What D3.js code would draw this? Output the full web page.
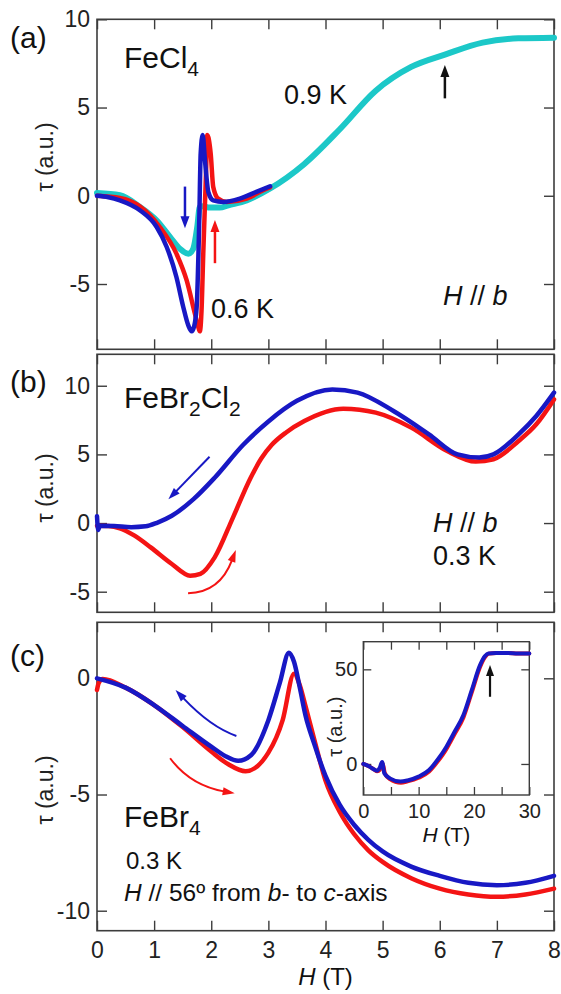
<!DOCTYPE html>
<html><head><meta charset="utf-8">
<script src="https://cdn.jsdelivr.net/npm/d3@7"></script>
<style>
html,body{margin:0;padding:0;background:#fff;}
svg{display:block;font-family:"Liberation Sans",Arial,sans-serif;}
</style></head>
<body>
<svg id="chart" width="561" height="994"></svg>
<script>
// ---------------- DATA ----------------
// Panel (a) FeCl4, H // b
const aBlueH  = [0, 0.2, 0.4, 0.75, 1.045, 1.22, 1.39, 1.51, 1.60, 1.657, 1.70, 1.745, 1.79, 1.815, 1.85, 1.89, 1.95, 2.035, 2.21, 2.5, 2.79, 3.03];
const aBlueT  = [0, -0.08, -0.26, -0.82, -1.77, -2.9, -4.6, -6.3, -7.36, -7.68, -7.4, -6.3, -1.4, 2.4, 3.44, 2.0, 0.2, -0.26, -0.35, -0.16, 0.22, 0.54];
const aRedH   = [0, 0.4, 0.75, 1.10, 1.39, 1.57, 1.715, 1.77, 1.80, 1.83, 1.86, 1.91, 1.93, 1.99, 2.035, 2.12, 2.27, 2.62, 2.97, 3.03];
const aRedT   = [0, -0.12, -0.6, -1.77, -3.28, -4.8, -6.7, -7.4, -7.68, -6.5, -3.3, 1.45, 3.44, 2.4, 0.5, -0.16, -0.35, -0.16, 0.41, 0.48];
const aCyanH  = [0, 0.4, 0.75, 1.045, 1.28, 1.45, 1.60, 1.685, 1.755, 1.80, 1.85, 1.95, 2.15, 2.30, 2.62, 3.03, 3.625, 4.25, 4.875, 5.5, 6.09, 6.75, 7.375, 8];
const aCyanT  = [0.16, 0.03, -0.63, -1.4, -2.34, -3.0, -3.28, -3.0, -1.77, -0.63, -0.6, -0.67, -0.67, -0.54, -0.26, 0.41, 1.79, 3.77, 5.94, 7.3, 8.0, 8.68, 8.92, 8.96];
// Panel (b) FeBr2Cl2, H // b, 0.3 K
const bBlueH  = [0, 0.02, 0.05, 0.3, 0.6, 0.85, 1.05, 1.31, 1.69, 2.06, 2.56, 3.0, 3.5, 4.12, 4.56, 5.19, 5.81, 6.31, 6.69, 6.94, 7.38, 7.69, 8];
const bBlueT  = [0.5, -0.5, -0.2, -0.22, -0.3, -0.24, 0.02, 0.53, 1.74, 3.3, 5.7, 7.4, 8.9, 9.73, 9.5, 8.16, 6.46, 5.0, 4.77, 5.0, 6.46, 7.8, 9.5];
const bRedH   = [0, 0.2, 0.4, 0.65, 0.94, 1.31, 1.63, 1.81, 2.06, 2.38, 2.69, 2.875, 3.06, 3.31, 3.63, 4.31, 4.88, 5.5, 6.13, 6.63, 6.94, 7.38, 7.69, 8];
const bRedT   = [-0.2, -0.22, -0.38, -0.9, -1.77, -2.98, -3.83, -3.7, -2.5, 0.4, 3.3, 4.7, 5.7, 6.6, 7.43, 8.33, 8.04, 6.95, 5.25, 4.48, 4.65, 5.98, 7.19, 9.0];
// Panel (c) FeBr4, 0.3 K
const cBlueH  = [0, 0.5, 1, 1.5, 2, 2.25, 2.47, 2.7, 3.0, 3.2, 3.36, 3.45, 3.55, 3.65, 3.8, 4.0, 4.25, 4.5, 4.75, 5, 5.5, 6, 6.5, 7, 7.5, 8];
const cBlueT  = [0, -0.4, -1.15, -2.05, -2.94, -3.35, -3.55, -3.3, -1.8, -0.2, 1.1, 0.7, -0.4, -1.6, -2.8, -4.2, -5.45, -6.3, -6.95, -7.45, -8.1, -8.5, -8.8, -8.9, -8.8, -8.5];
const cRedH   = [0, 0.03, 0.1, 0.5, 1, 1.5, 2, 2.3, 2.6, 3.0, 3.25, 3.45, 3.55, 3.65, 3.8, 4.0, 4.25, 4.5, 4.75, 5, 5.5, 6, 6.5, 7, 7.5, 8];
const cRedT   = [-0.5, -0.2, -0.03, -0.4, -1.15, -2.1, -3.15, -3.7, -4.0, -3.2, -1.8, 0.2, -0.3, -1.2, -2.6, -4.4, -5.75, -6.7, -7.4, -7.9, -8.6, -9.05, -9.3, -9.4, -9.3, -9.05];
// Inset of (c): 0-30 T
const iBlueH  = [0, 1, 2, 2.5, 3, 3.4, 3.8, 4.8, 6.7, 8, 10, 11.9, 13.5, 15, 15.7, 16.5, 18.1, 19.6, 21.1, 22, 22.6, 24, 26, 28, 30];
const iBlueT  = [0, -1.2, -3, -3.6, -1.8, 1.1, -4.9, -7.6, -9.3, -8.7, -6.7, -3.2, 2.5, 9, 12.7, 17, 25.9, 39, 52.2, 57, 58.4, 58.6, 58.6, 58.4, 58.4];
const iRedH   = [0, 1, 2, 2.5, 3, 3.5, 3.9, 4.8, 6.8, 8, 10, 11.9, 13.5, 15, 15.7, 16.5, 18.1, 19.6, 21.1, 22, 22.7, 24, 26, 28, 30];
const iRedT   = [0, -1.2, -3, -3.9, -3.0, 0.2, -5.0, -8.0, -9.9, -9.2, -7.3, -4.0, 1.5, 7.8, 11.5, 15.8, 24.6, 37.8, 51.3, 56.5, 58.3, 58.6, 58.6, 58.4, 58.4];

// axis ticks
const xTicks = [0, 1, 2, 3, 4, 5, 6, 7, 8];
const aYTicks = [10, 5, 0, -5];
const bYTicks = [10, 5, 0, -5];
const cYTicks = [0, -5, -10];
const iXTicks = [0, 5, 10, 15, 20, 25, 30];
const iXLabels = [0, 10, 20, 30];
const iYTicks = [50, 0];

// colours
const BLUE = "#1818c4", RED = "#f41414", CYAN = "#1cc8c8", FRAME = "#3c3c3c";

// ---------------- LAYOUT ----------------
const svg = d3.select("#chart");
svg.append("rect").attr("width",561).attr("height",994).attr("fill","#fff");
const X0 = 97, X1 = 554;
const fmt = d => String(d);

function makePanel(top, bottom, yDom, yTicks, showXLabels){
  const x = d3.scaleLinear().domain([0,8]).range([X0,X1]);
  const y = d3.scaleLinear().domain(yDom).range([bottom, top]);
  const g = svg.append("g");
  const tl = 10;
  g.append("g").attr("transform",`translate(${X0},0)`)
    .call(d3.axisLeft(y).tickValues(yTicks).tickSize(-tl).tickSizeOuter(0).tickPadding(7).tickFormat(fmt))
    .call(s=>s.select(".domain").remove());
  g.append("g").attr("transform",`translate(${X1},0)`)
    .call(d3.axisRight(y).tickValues(yTicks).tickSize(-tl).tickSizeOuter(0).tickFormat(""))
    .call(s=>s.select(".domain").remove());
  g.append("g").attr("transform",`translate(0,${top})`)
    .call(d3.axisTop(x).tickValues(xTicks).tickSize(-tl).tickSizeOuter(0).tickFormat(""))
    .call(s=>s.select(".domain").remove());
  g.append("g").attr("transform",`translate(0,${bottom})`)
    .call(d3.axisBottom(x).tickValues(xTicks).tickSize(-tl).tickSizeOuter(0).tickPadding(11)
      .tickFormat(showXLabels ? fmt : ""))
    .call(s=>s.select(".domain").remove());
  g.selectAll(".tick line").attr("stroke",FRAME).attr("stroke-width",1.4);
  g.selectAll(".tick text").attr("font-size",23).attr("fill","#222").attr("font-family","Liberation Sans, Arial, sans-serif");
  g.append("rect").attr("x",X0).attr("y",top).attr("width",X1-X0).attr("height",bottom-top)
    .attr("fill","none").attr("stroke",FRAME).attr("stroke-width",1.6);
  return {x, y, g};
}

function curve(p, H, T, color, w){
  const pts = H.map((h,i)=>[h,T[i]]);
  p.g.append("path").datum(pts)
    .attr("d", d3.line().x(d=>p.x(d[0])).y(d=>p.y(d[1])).curve(d3.curveMonotoneX))
    .attr("fill","none").attr("stroke",color).attr("stroke-width",w)
    .attr("stroke-linejoin","round").attr("stroke-linecap","round");
}

// arrow: from (h0,t0) to (h1,t1) in data coords, optional control (hc,tc)
function arrow(p, h0,t0,h1,t1,color,w,ctrl,headL,headW){
  const x0=p.x(h0), y0=p.y(t0), x1=p.x(h1), y1=p.y(t1);
  let cx, cy;
  if(ctrl){ cx=p.x(ctrl[0]); cy=p.y(ctrl[1]); } else { cx=(x0+x1)/2; cy=(y0+y1)/2; }
  const dx=x1-cx, dy=y1-cy, L=Math.hypot(dx,dy), ux=dx/L, uy=dy/L;
  const bx=x1-ux*headL, by=y1-uy*headL;
  const path = d3.path();
  path.moveTo(x0,y0);
  if(ctrl) path.quadraticCurveTo(cx,cy,bx+ux*1,by+uy*1); else path.lineTo(bx+ux,by+uy);
  p.g.append("path").attr("d",path.toString()).attr("fill","none").attr("stroke",color).attr("stroke-width",w);
  p.g.append("path")
    .attr("d",`M${x1},${y1}L${bx-uy*headW/2},${by+ux*headW/2}L${bx+uy*headW/2},${by-ux*headW/2}Z`)
    .attr("fill",color);
}

function label(x,y,parts,size,anchor){
  const t = svg.append("text").attr("x",x).attr("y",y).attr("font-size",size).attr("fill","#111")
    .attr("text-anchor",anchor||"start");
  parts.forEach(pt=>{
    const s = t.append("tspan").text(pt.t);
    if(pt.i) s.attr("font-style","italic");
    if(pt.sub){ s.attr("font-size",size*0.7).attr("dy",pt.dy); }
    else if(pt.dy) s.attr("dy",pt.dy);
  });
  return t;
}

function ylabel(cx,cy,size){
  svg.append("text").attr("transform",`translate(${cx},${cy}) rotate(-90)`)
    .attr("text-anchor","middle").attr("dominant-baseline","central")
    .attr("font-size",size).attr("fill","#222").text("τ (a.u.)");
}

// ---------------- PANEL A ----------------
const pa = makePanel(19.3, 349.3, [-8.7, 10], aYTicks, false);
curve(pa, aCyanH, aCyanT, CYAN, 6);
curve(pa, aRedH, aRedT, RED, 4.5);
curve(pa, aBlueH, aBlueT, BLUE, 4.5);
arrow(pa, 1.54, 0.52, 1.54, -1.84, BLUE, 2.5, null, 12, 9);
arrow(pa, 2.065, -3.82, 2.065, -1.37, RED, 2.5, null, 12, 9);
arrow(pa, 6.09, 5.52, 6.09, 7.41, "#111", 2.5, null, 12, 9);
label(10, 47.5, [{t:"(a)"}], 30);
label(124, 68, [{t:"FeCl"},{t:"4",sub:true,dy:8}], 30);
label(284, 104, [{t:"0.9 K"}], 27);
label(211, 318, [{t:"0.6 K"}], 27);
label(443, 305, [{t:"H",i:true},{t:" // "},{t:"b",i:true}], 27);
ylabel(45, 157, 23);

// ---------------- PANEL B ----------------
const pb = makePanel(354.3, 612.3, [-6.5, 12.29], bYTicks, false);
curve(pb, bRedH, bRedT, RED, 4.5);
curve(pb, bBlueH, bBlueT, BLUE, 4.5);
arrow(pb, 1.97, 4.83, 1.25, 1.73, BLUE, 2, null, 12, 8);
arrow(pb, 1.594, -5.12, 2.43, -1.97, RED, 2, [2.15, -5.05], 12, 8);
label(10, 392, [{t:"(b)"}], 30);
label(124, 408, [{t:"FeBr"},{t:"2",sub:true,dy:8},{t:"Cl",dy:-8},{t:"2",sub:true,dy:8}], 30);
label(433, 531.5, [{t:"H",i:true},{t:" // "},{t:"b",i:true}], 27);
label(433, 565, [{t:"0.3 K"}], 27);
ylabel(45, 488, 23);

// ---------------- PANEL C ----------------
const pc = makePanel(622.3, 930.7, [-10.86, 2.41], cYTicks, true);
curve(pc, cRedH, cRedT, RED, 4.5);
curve(pc, cBlueH, cBlueT, BLUE, 4.5);
arrow(pc, 2.44, -2.48, 1.375, -0.50, BLUE, 2, [1.99, -2.10], 12, 8);
arrow(pc, 1.28, -3.44, 2.41, -4.95, RED, 2, [1.63, -4.6], 12, 8);
label(10, 666, [{t:"(c)"}], 30);
label(124, 826.7, [{t:"FeBr"},{t:"4",sub:true,dy:8}], 30);
label(126, 869.3, [{t:"0.3 K"}], 24);
label(124, 900.7, [{t:"H",i:true},{t:" // 56º from "},{t:"b",i:true},{t:"- to "},{t:"c",i:true},{t:"-axis"}], 24.5);
label(325.5, 985, [{t:"H",i:true},{t:" (T)"}], 24, "middle");
ylabel(45, 790, 23);

// ---------------- INSET ----------------
const IL=363.3, IR=529.3, IT=641.7, IB=795;
const ix = d3.scaleLinear().domain([0,30]).range([IL,IR]);
const iy = d3.scaleLinear().domain([-16.4, 64.6]).range([IB,IT]);
const ig = svg.append("g");
ig.append("rect").attr("x",IL).attr("y",IT).attr("width",IR-IL).attr("height",IB-IT).attr("fill","#fff");
const itl = 8;
ig.append("g").attr("transform",`translate(${IL},0)`)
  .call(d3.axisLeft(iy).tickValues(iYTicks).tickSize(-itl).tickSizeOuter(0).tickPadding(6).tickFormat(fmt))
  .call(s=>s.select(".domain").remove());
ig.append("g").attr("transform",`translate(${IR},0)`)
  .call(d3.axisRight(iy).tickValues(iYTicks).tickSize(-itl).tickSizeOuter(0).tickFormat(""))
  .call(s=>s.select(".domain").remove());
ig.append("g").attr("transform",`translate(0,${IT})`)
  .call(d3.axisTop(ix).tickValues(iXTicks).tickSize(-itl).tickSizeOuter(0).tickFormat(""))
  .call(s=>s.select(".domain").remove());
ig.append("g").attr("transform",`translate(0,${IB})`)
  .call(d3.axisBottom(ix).tickValues(iXTicks).tickSize(-itl).tickSizeOuter(0).tickPadding(9)
    .tickFormat(d=> iXLabels.includes(d) ? String(d) : ""))
  .call(s=>s.select(".domain").remove());
ig.selectAll(".tick line").attr("stroke",FRAME).attr("stroke-width",1.3);
ig.selectAll(".tick text").attr("font-size",20).attr("fill","#222").attr("font-family","Liberation Sans, Arial, sans-serif");
ig.append("rect").attr("x",IL).attr("y",IT).attr("width",IR-IL).attr("height",IB-IT)
  .attr("fill","none").attr("stroke",FRAME).attr("stroke-width",1.4);
const pi = {x:ix, y:iy, g:ig};
curve(pi, iRedH, iRedT, RED, 4);
curve(pi, iBlueH, iBlueT, BLUE, 4);
arrow(pi, 22.9, 35.5, 22.9, 52.3, "#111", 2.2, null, 11, 8);
label(446.3, 841.7, [{t:"H",i:true},{t:" (T)"}], 21, "middle");
ylabel(334.5, 726.7, 20);
</script>
</body></html>
